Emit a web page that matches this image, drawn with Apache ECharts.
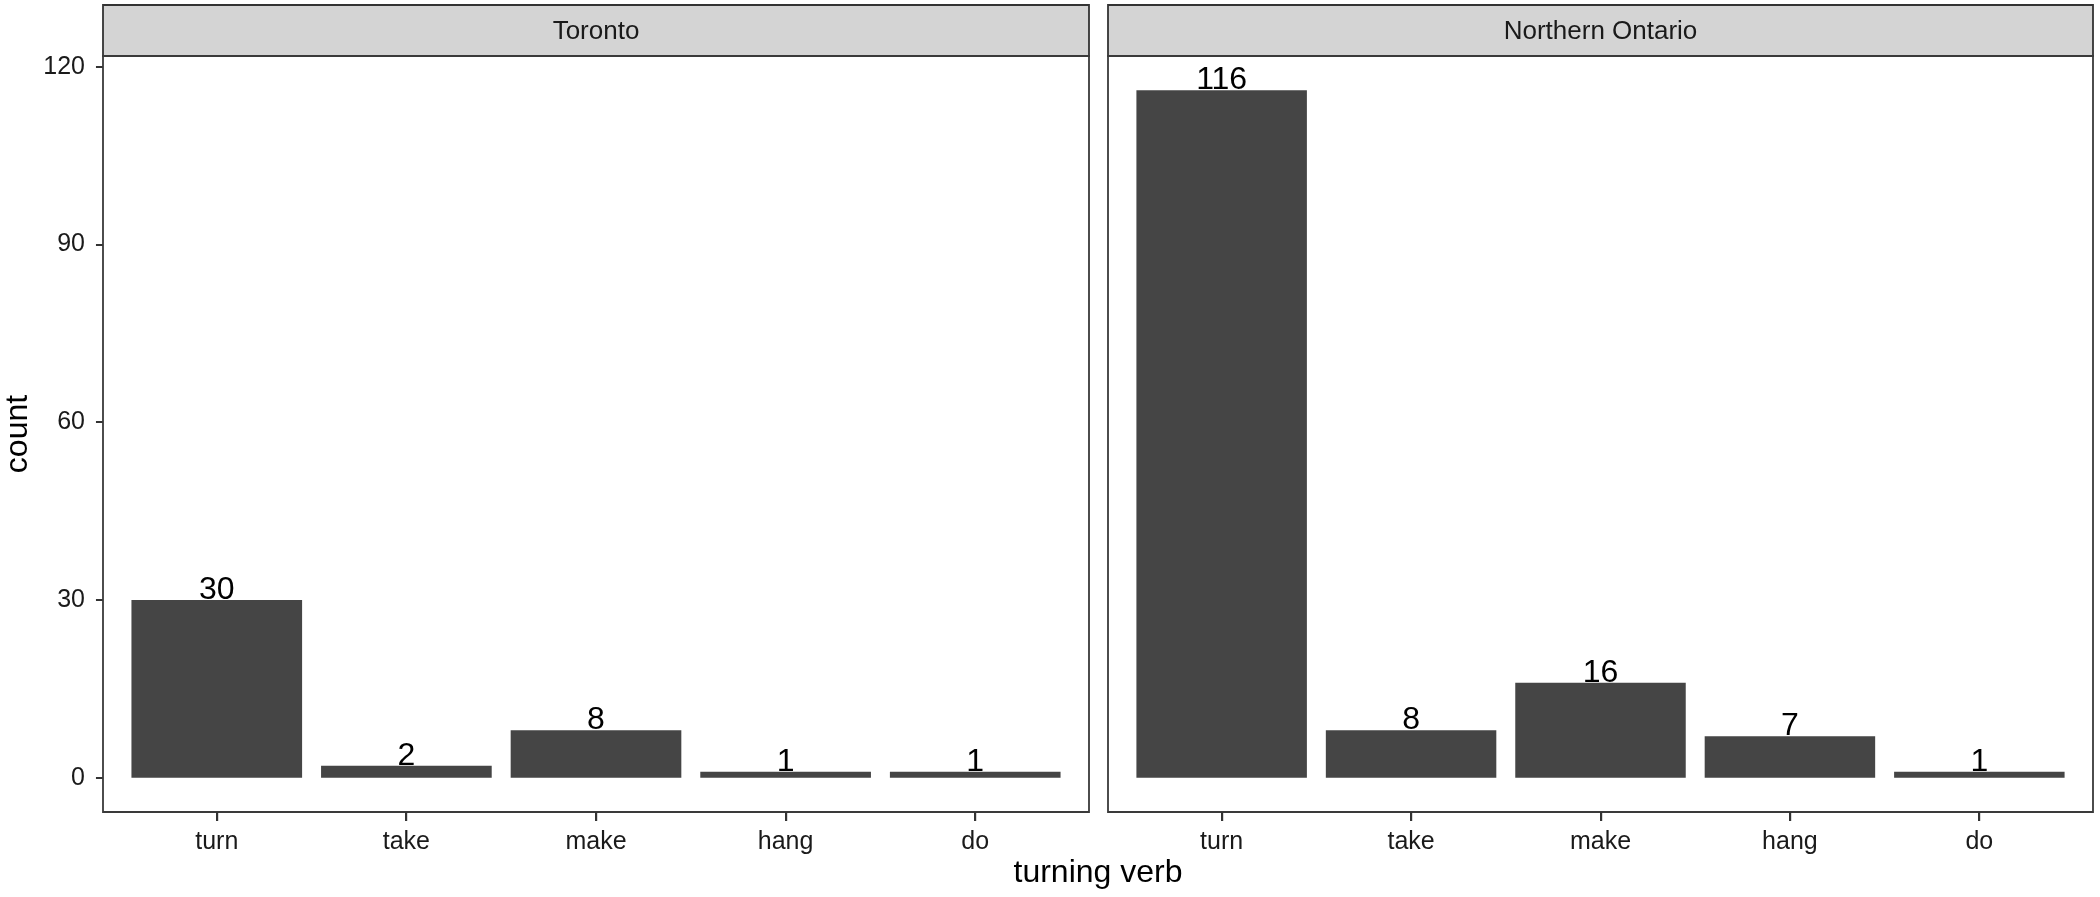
<!DOCTYPE html>
<html>
<head>
<meta charset="utf-8">
<script src="https://cdn.jsdelivr.net/npm/echarts@6/dist/echarts.min.js"></script>
<style>
html,body{margin:0;padding:0;background:#fff;}
#chart{width:2100px;height:897px;}
</style>
</head>
<body>
<div id="chart"></div>
<script>
const categories = ['turn', 'take', 'make', 'hang', 'do'];
const panelNames = ['Toronto', 'Northern Ontario'];
const torontoCounts = [30, 2, 8, 1, 1];
const northernOntarioCounts = [116, 8, 16, 7, 1];
const yTickValues = [0, 30, 60, 90, 120];
const yRangeMin = -5.8, yRangeMax = 121.8;

const FONT = '"Liberation Sans", Arial, Helvetica, sans-serif';
const chart = echarts.init(document.getElementById('chart'), null, {renderer: 'canvas'});

const panels = [
  {x: 103, w: 986},
  {x: 1108, w: 985}
];
const panelTop = 56, panelBottom = 812, stripTop = 5;
const grids = panels.map(p => {
  const unit = p.w / 5.2;
  return {left: p.x + 0.1 * unit, width: 5 * unit, top: panelTop, height: panelBottom - panelTop};
});

const graphics = [];
panels.forEach((p, i) => {
  graphics.push({type: 'rect', shape: {x: p.x, y: stripTop, width: p.w, height: panelTop - stripTop},
    style: {fill: '#d4d4d4', stroke: '#333', lineWidth: 1.8}, z: 10});
  graphics.push({type: 'rect', shape: {x: p.x, y: panelTop, width: p.w, height: panelBottom - panelTop},
    style: {fill: null, stroke: '#3a3a3a', lineWidth: 1.8}, z: 10, silent: true});
  graphics.push({type: 'text', x: p.x + p.w / 2, y: (stripTop + panelTop) / 2 + 1,
    style: {text: panelNames[i], font: '26px ' + FONT, fill: '#1a1a1a', textAlign: 'center', textVerticalAlign: 'middle'}, z: 11});
});
graphics.push({type: 'text', x: 18, y: 434, rotation: Math.PI / 2,
  style: {text: 'count', font: '32px ' + FONT, fill: '#000', textAlign: 'center', textVerticalAlign: 'middle'}, z: 11});
graphics.push({type: 'text', x: 1098, y: 873,
  style: {text: 'turning verb', font: '32px ' + FONT, fill: '#000', textAlign: 'center', textVerticalAlign: 'middle'}, z: 11});

// x-axis tick marks at the centre of each category band of the grid
grids.forEach(g => {
  const band = g.width / categories.length;
  categories.forEach((c, idx) => {
    const x = Math.round(g.left + (idx + 0.5) * band);
    graphics.push({type: 'rect', shape: {x: x - 1, y: panelBottom, width: 2.2, height: 9},
      style: {fill: '#333'}, z: 12, silent: true});
  });
});

const xAxes = grids.map((g, i) => ({
  type: 'category', gridIndex: i, data: categories, position: 'bottom',
  axisLine: {show: false, onZero: false},
  axisTick: {show: false},
  axisLabel: {fontSize: 25, fontFamily: FONT, color: '#1a1a1a', margin: 18},
  splitLine: {show: false}
}));
const yAxes = grids.map((g, i) => ({
  type: 'value', gridIndex: i, min: yRangeMin, max: yRangeMax, offset: 19,
  axisLine: {show: false, onZero: false},
  axisTick: {show: i === 0, customValues: yTickValues, length: 7, lineStyle: {color: '#333', width: 2}},
  axisLabel: {show: i === 0, customValues: yTickValues, fontSize: 25, fontFamily: FONT, color: '#1a1a1a', margin: 18},
  splitLine: {show: false}
}));

const seriesData = [torontoCounts, northernOntarioCounts];
const series = seriesData.map((d, i) => ({
  type: 'bar', xAxisIndex: i, yAxisIndex: i, data: d, barWidth: '90%',
  itemStyle: {color: '#454545'},
  label: {show: true, position: 'top', distance: -6, fontSize: 32, fontFamily: FONT, color: '#000'}
}));

chart.setOption({
  animation: false,
  backgroundColor: '#fff',
  grid: grids,
  xAxis: xAxes,
  yAxis: yAxes,
  series: series,
  graphic: graphics
});
</script>
</body>
</html>
